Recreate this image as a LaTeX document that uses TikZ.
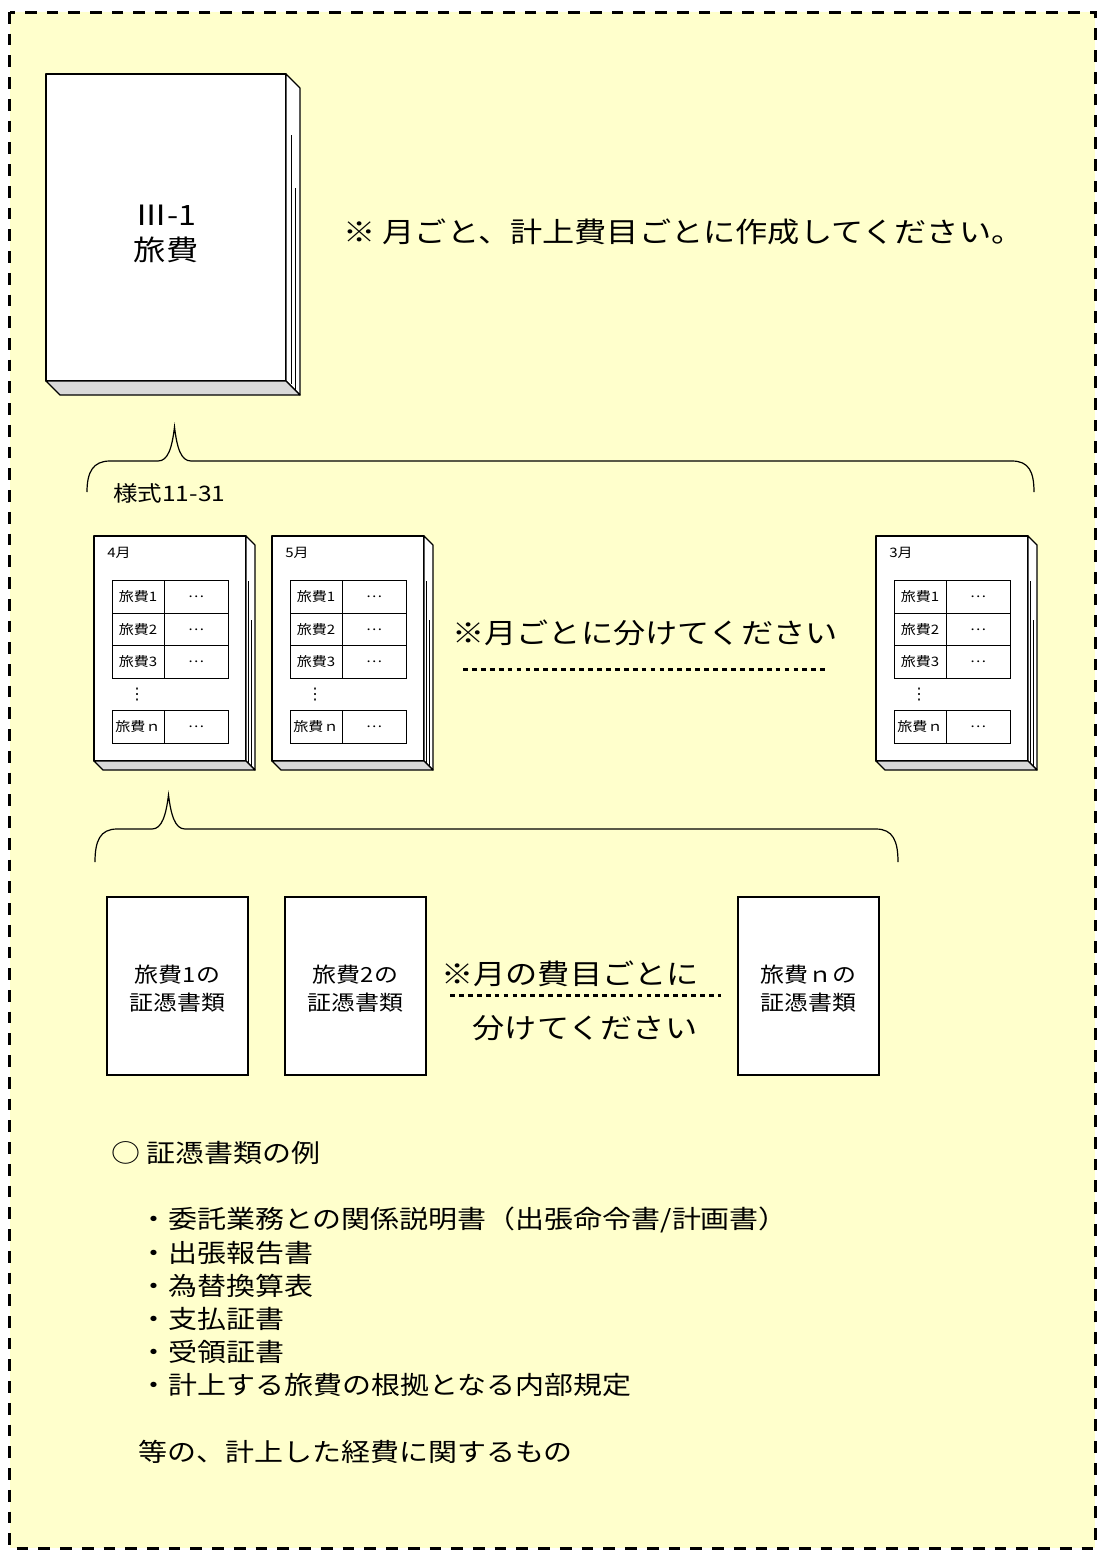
\documentclass[tikz,border=0pt]{standalone}
\usepackage{fontspec}
\setmainfont{Noto Sans CJK JP}[FakeStretch=1.15]
\newfontfamily\symfont{DejaVu Sans}
\definecolor{bgyellow}{HTML}{FFFFCC}
\definecolor{slab}{HTML}{D9D9D9}
\tikzset{
  frame/.style={draw=black, line width=2.25pt, dash pattern=on 8.8pt off 7.5pt, fill=bgyellow},
  bookline/.style={draw=black, line width=0.9pt, line join=round},
  cellline/.style={draw=black, line width=0.6pt},
  pageline/.style={draw=black, line width=0.6pt},
  dotline/.style={draw=black, line width=2.25pt, dash pattern=on 3.6pt off 3.1pt},
  bracepath/.style={draw=black, line width=0.9pt},
  bignote/.style={font=\fontsize{21}{25}\selectfont, inner sep=0pt},
  celltext/.style={font=\fontsize{9.8}{11}\selectfont, inner sep=0pt},
  boxtext/.style={font=\fontsize{15.6}{21}\selectfont, inner sep=0pt, align=center},
  listtext/.style={font=\fontsize{18.9}{22}\selectfont, inner sep=0pt, anchor=west},
}
\newcommand\monthbook[3]{%
\begin{scope}[shift={(#1,0)}]
  \draw[bookline, fill=white] (94,536) rectangle (246,761);
  \draw[bookline, fill=white] (246,536) -- (255,545) -- (255,770) -- (246,761) -- cycle;
  \draw[bookline, fill=slab] (94,761) -- (246,761) -- (255,770) -- (103,770) -- cycle;
  \draw[pageline] (248.7,581) -- (248.7,764);
  \draw[pageline] (251.7,620) -- (251.7,767);
  \node[celltext, anchor=west] (#2-m) at (107,553) {#3};
  \foreach \r/\y/\t in {1/597/旅費1, 2/629.5/旅費2, 3/662/旅費3, n/727/旅費ｎ} {
    \draw[cellline] (112,\y-16.25) rectangle (228,\y+16.25);
    \draw[cellline] (164,\y-16.25) -- (164,\y+16.25);
    \node[celltext] (#2-a\r) at (138,\y) {\t};
    \node[celltext] (#2-b\r) at (196,\y) {…};
  }
  \node[font=\fontsize{12}{12}\selectfont, inner sep=0pt] (#2-v) at (137,695) {\symfont ⋮};
\end{scope}}

\begin{document}
\begin{tikzpicture}[x=0.75pt, y=-0.75pt]
\useasboundingbox (0,0) rectangle (1097,1550);
\path[frame] (9.5,12) rectangle (1095,1548);

% big book
\draw[bookline, fill=white] (46,74) rectangle (286,381);
\draw[bookline, fill=white] (286,74) -- (300,88) -- (300,395) -- (286,381) -- cycle;
\draw[bookline, fill=slab] (46,381) -- (286,381) -- (300,395) -- (60,395) -- cycle;
\draw[pageline] (291,135) -- (291,384);
\draw[pageline] (295,188) -- (295,390);
\node[bignote] (bt1) at (166,215) {Ⅲ-1};
\node[bignote] (bt2) at (166,250) {旅費};

\node[bignote, anchor=west] (note1) at (343,232) {※ 月ごと、計上費目ごとに作成してください。};

% upper brace
\draw[bracepath] (87,492) .. controls (87,472) and (93,461) .. (110,461) -- (158,461)
  .. controls (168,461) and (172,448) .. (174.5,427)
  .. controls (177,448) and (181,461) .. (191,461) -- (1012,461)
  .. controls (1029,461) and (1034,472) .. (1034,492);
\node[font=\fontsize{16}{18}\selectfont, inner sep=0pt, anchor=west] (form) at (113,493) {様式11-31};

% month books
\monthbook{0}{apr}{4月}
\monthbook{178}{may}{5月}
\monthbook{782}{mar}{3月}

\node[bignote] (note2) at (645,633) {※月ごとに分けてください};
\coordinate (d1a) at (463,669);
\coordinate (d1b) at (826,669);
\draw[dotline] (d1a) -- (d1b);

% lower brace
\draw[bracepath] (95,862) .. controls (95,841) and (100,829) .. (117,829) -- (152,829)
  .. controls (162,829) and (166,815) .. (168.5,795)
  .. controls (171,815) and (175,829) .. (185,829) -- (876,829)
  .. controls (893,829) and (898,841) .. (898,862);

% evidence boxes
\node[draw=black, line width=0.9pt, fill=white, minimum width=105.75pt, minimum height=133.5pt, inner sep=0pt] (e1) at (177.5,986) {};
\node[draw=black, line width=0.9pt, fill=white, minimum width=105.75pt, minimum height=133.5pt, inner sep=0pt] (e2) at (355.5,986) {};
\node[draw=black, line width=0.9pt, fill=white, minimum width=105.75pt, minimum height=133.5pt, inner sep=0pt] (e3) at (808.5,986) {};
\node[boxtext] (e1t) at (177.5,989) {旅費1の\\証憑書類};
\node[boxtext] (e2t) at (355.5,989) {旅費2の\\証憑書類};
\node[boxtext] (e3t) at (808.5,989) {旅費ｎの\\証憑書類};

\node[bignote] (note3a) at (570,974) {※月の費目ごとに};
\coordinate (d2a) at (450,995);
\coordinate (d2b) at (721,995);
\draw[dotline] (d2a) -- (d2b);
\node[bignote] (note3b) at (585,1028) {分けてください};

% list
\node[listtext] (l0) at (111,1153) {○ 証憑書類の例};
\node[listtext] (l1) at (139,1220) {・委託業務との関係説明書（出張命令書/計画書）};
\node[listtext] (l2) at (139,1253) {・出張報告書};
\node[listtext] (l3) at (139,1286) {・為替換算表};
\node[listtext] (l4) at (139,1319) {・支払証書};
\node[listtext] (l5) at (139,1352) {・受領証書};
\node[listtext] (l6) at (139,1385) {・計上する旅費の根拠となる内部規定};
\node[listtext] (l7) at (138,1452) {等の、計上した経費に関するもの};
\end{tikzpicture}
\end{document}
